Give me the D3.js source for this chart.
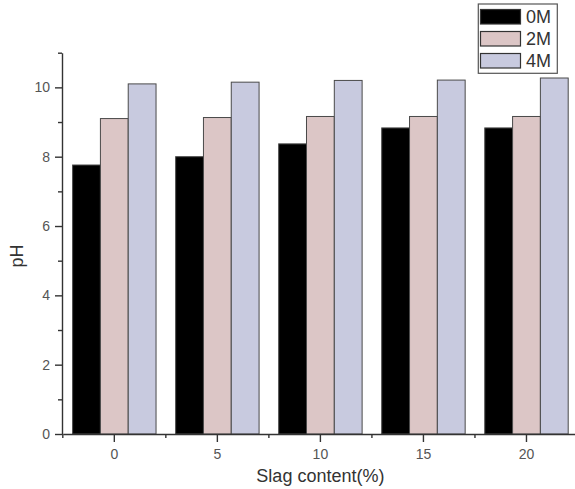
<!DOCTYPE html>
<html>
<head>
<meta charset="utf-8">
<script src="https://cdn.jsdelivr.net/npm/d3@7"></script>
<style>
  html, body { margin: 0; padding: 0; background: #fff; }
  svg { display: block; font-family: "Liberation Sans", Arial, sans-serif; }
</style>
</head>
<body>
<svg id="chart" width="575" height="489"></svg>
<script>
// Slag content categories (%) and pH per molarity series
const categories = ["0", "5", "10", "15", "20"];
const seriesNames = ["0M", "2M", "4M"];
const ph0M = [7.76, 8.00, 8.37, 8.83, 8.83];
const ph2M = [9.10, 9.13, 9.16, 9.16, 9.16];
const ph4M = [10.10, 10.15, 10.20, 10.21, 10.27];
const seriesColors = ["#000000", "#dcc6c6", "#c8cadf"];
const yMajorTicks = [0, 2, 4, 6, 8, 10];
const yMinorTicks = [1, 3, 5, 7, 9, 11];

const seriesValues = [ph0M, ph2M, ph4M];
const rows = categories.map((c, i) => ({
  cat: c,
  values: seriesNames.map((s, j) => ({ key: s, value: seriesValues[j][i], color: seriesColors[j] }))
}));

const svg = d3.select("#chart");
const plot = { left: 62.8, right: 578, top: 52.7, bottom: 434 };

const x0 = d3.scaleBand().domain(categories).range([plot.left, plot.right]).padding(0);
const x1 = d3.scaleBand().domain(seriesNames).range([0, x0.bandwidth()])
  .paddingInner(0).paddingOuter(0.3525);
const y = d3.scaleLinear().domain([0, 11]).range([plot.bottom, plot.top]);

// bars
const g = svg.append("g");
g.selectAll("g.grp").data(rows).join("g")
  .attr("class", "grp")
  .attr("transform", d => `translate(${x0(d.cat)},0)`)
  .selectAll("rect").data(d => d.values).join("rect")
  .attr("x", d => x1(d.key))
  .attr("y", d => y(d.value))
  .attr("width", x1.bandwidth())
  .attr("height", d => y(0) - y(d.value))
  .attr("fill", d => d.color)
  .attr("stroke", "#4a4a4a")
  .attr("stroke-width", 1);

const axisColor = "#333";
const labelColor = "#555";

// y axis: major ticks with labels, minor ticks between
const yAxis = svg.append("g").attr("transform", `translate(${plot.left - 0.8},0)`);
yAxis.call(d3.axisLeft(y).tickValues(yMajorTicks).tickSize(7).tickSizeOuter(0).tickPadding(5));
yAxis.append("g").call(d3.axisLeft(y).tickValues(yMinorTicks).tickSize(4).tickSizeOuter(0).tickFormat(""))
  .select(".domain").remove();
yAxis.selectAll("path, line").attr("stroke", axisColor).attr("stroke-width", 1.4);
yAxis.selectAll("text").attr("fill", labelColor).style("font-size", "14px")
  .style("font-family", "'Liberation Sans', Arial, sans-serif");

// x axis: category ticks at band centres, minor ticks at band edges
const xAxis = svg.append("g").attr("transform", `translate(0,${plot.bottom})`);
xAxis.call(d3.axisBottom(x0).tickSize(8).tickSizeOuter(0).tickPadding(7));
const edges = categories.map(c => x0(c));
xAxis.selectAll("line.minor").data(edges).join("line")
  .attr("class", "minor")
  .attr("x1", d => d).attr("x2", d => d)
  .attr("y1", 0).attr("y2", 4);
xAxis.selectAll("path, line").attr("stroke", axisColor).attr("stroke-width", 1.4);
xAxis.selectAll("text").attr("fill", labelColor).style("font-size", "14px")
  .style("font-family", "'Liberation Sans', Arial, sans-serif");

// axis titles
svg.append("text")
  .attr("x", (plot.left + plot.right) / 2).attr("y", 482)
  .attr("text-anchor", "middle")
  .attr("fill", "#333").style("font-size", "18px")
  .text("Slag content(%)");
svg.append("text")
  .attr("transform", "translate(23,256) rotate(-90)")
  .attr("text-anchor", "middle")
  .attr("fill", "#333").style("font-size", "18px")
  .text("pH");

// legend
const legend = svg.append("g");
legend.append("rect")
  .attr("x", 478.3).attr("y", 4).attr("width", 79).attr("height", 69.3)
  .attr("fill", "#fff").attr("stroke", "#555").attr("stroke-width", 1.2);
const rowH = 22;
const items = legend.selectAll("g.item").data(seriesNames.map((s, i) => ({ s, c: seriesColors[i] })))
  .join("g").attr("class", "item")
  .attr("transform", (d, i) => `translate(480,${9.5 + i * rowH})`);
items.append("rect")
  .attr("x", 0.5).attr("y", 0).attr("width", 40).attr("height", 14.5)
  .attr("fill", d => d.c).attr("stroke", "#333").attr("stroke-width", 1.2);
items.append("text")
  .attr("x", 46).attr("y", 13.5)
  .attr("fill", "#333").style("font-size", "18px")
  .text(d => d.s);
</script>
</body>
</html>
